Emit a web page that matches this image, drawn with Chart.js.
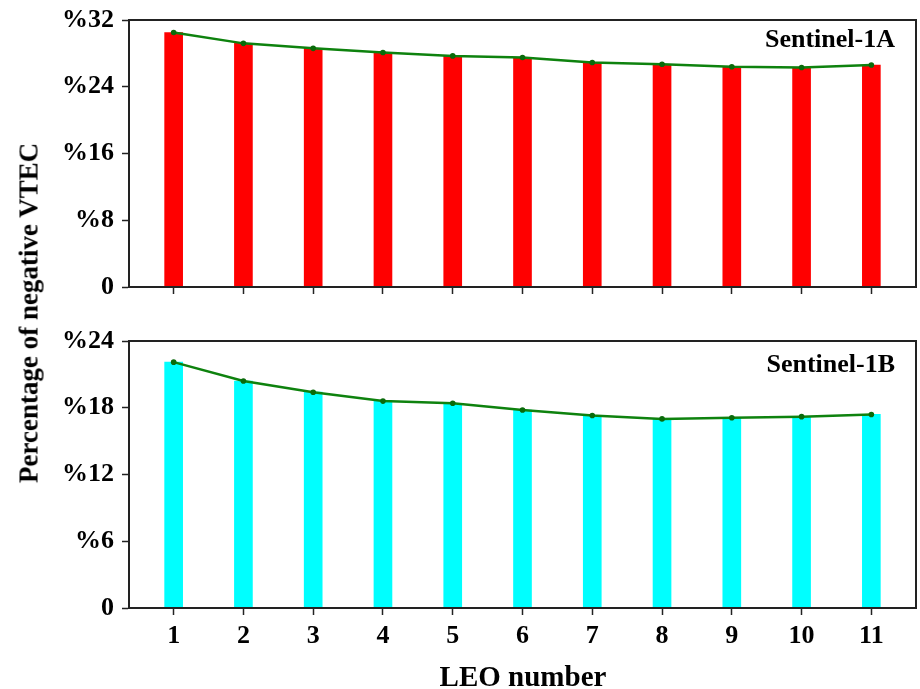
<!DOCTYPE html>
<html>
<head>
<meta charset="utf-8">
<title>Percentage of negative VTEC</title>
<script src="https://cdn.jsdelivr.net/npm/chart.js@4.4.1/dist/chart.umd.min.js"></script>
<style>
    body { margin: 0; background: #fff; }
    #wrap { position: relative; width: 920px; height: 689px; overflow: hidden;
            font-family: "Liberation Serif", "Times New Roman", serif; font-weight: bold; color: #000; }
    .panel { position: absolute; left: 0; width: 920px; }
    #p1 { top: 0; height: 300px; }
    #p2 { top: 321px; height: 368px; }
    #ytitle { position: absolute; left: 29px; top: 313px; font-size: 27px; line-height: 1;
              white-space: nowrap; transform: translate(-50%, -50%) rotate(-90deg); }
    #xtitle { position: absolute; left: 523px; top: 676px; font-size: 29px; line-height: 1;
              white-space: nowrap; transform: translate(-50%, -50%); }
</style>
</head>
<body>
<div id="wrap">
    <div class="panel" id="p1"><canvas id="chartA"></canvas></div>
    <div class="panel" id="p2"><canvas id="chartB"></canvas></div>
    <div id="ytitle">Percentage of negative VTEC</div>
    <div id="xtitle">LEO number</div>
</div>
<script>
// LEO numbers on the x axis
const leoNumbers = [1, 2, 3, 4, 5, 6, 7, 8, 9, 10, 11];

// % of negative VTEC per LEO
const sentinel1A = [30.5, 29.2, 28.6, 28.1, 27.7, 27.5, 26.9, 26.7, 26.4, 26.3, 26.6];
const sentinel1B = [22.1, 20.4, 19.4, 18.6, 18.4, 17.8, 17.3, 17.0, 17.1, 17.2, 17.4];

// y tick values of each panel
const ticksA = [0, 8, 16, 24, 32];
const ticksB = [0, 6, 12, 18, 24];

const FONT = '"Liberation Serif", "Times New Roman", serif';
Chart.defaults.font.family = FONT;
Chart.defaults.color = '#000';

// frame around the plot area + panel name in the upper right corner
const framePlugin = {
    id: 'frame',
    afterDraw(chart, args, opts) {
        const { ctx, chartArea: a } = chart;
        ctx.save();
        ctx.strokeStyle = '#222';
        ctx.lineWidth = 2;
        ctx.strokeRect(a.left, a.top, a.right - a.left, a.bottom - a.top);
        ctx.font = 'bold 26px ' + FONT;
        ctx.fillStyle = '#000';
        ctx.textAlign = 'right';
        ctx.textBaseline = 'alphabetic';
        ctx.fillText(opts.text, a.right - 21, a.top + opts.dy);
        ctx.restore();
    }
};

// quitar el relleno que pide cada eje para sus etiquetas extremas
function sinRelleno(scale) {
    scale.paddingTop = 0;
    scale.paddingBottom = 0;
    scale.paddingLeft = 0;
    scale.paddingRight = 0;
}

function crearPanel(canvasId, valores, colorBarra, yTicks, nombre, dy, conEtiquetas, altoEjeX) {
    const ctx = document.getElementById(canvasId).getContext('2d');
    const puntos = valores.map((v, i) => ({ x: leoNumbers[i], y: v }));

    return new Chart(ctx, {
        type: 'bar',
        data: {
            datasets: [
                {
                    type: 'line',
                    data: puntos,
                    borderColor: '#0e820e',
                    borderWidth: 2.5,
                    pointRadius: 2.8,
                    pointBackgroundColor: '#0a6a0a',
                    pointBorderColor: '#0a6a0a',
                    pointBorderWidth: 0,
                    tension: 0,
                    order: 0
                },
                {
                    data: puntos,
                    backgroundColor: colorBarra,
                    borderWidth: 0,
                    barThickness: 18,
                    order: 1
                }
            ]
        },
        options: {
            responsive: true,
            maintainAspectRatio: false,
            animation: false,
            events: [],
            layout: { padding: { top: 20, right: 2, left: 0, bottom: 0 } },
            plugins: {
                legend: { display: false },
                tooltip: { enabled: false },
                frame: { text: nombre, dy: dy }
            },
            scales: {
                x: {
                    type: 'linear',
                    min: 0.36,
                    max: 11.64,
                    offset: false,
                    afterBuildTicks: scale => { scale.ticks = leoNumbers.map(v => ({ value: v })); },
                    afterFit: scale => { scale.height = altoEjeX; sinRelleno(scale); },
                    grid: { drawOnChartArea: false, offset: false, tickLength: 7, color: '#222', tickWidth: 1.5 },
                    border: { display: true, color: '#222', width: 2 },
                    ticks: {
                        display: conEtiquetas,
                        padding: 6,
                        maxRotation: 0,
                        font: { size: 26, weight: 'bold' }
                    }
                },
                y: {
                    min: yTicks[0],
                    max: yTicks[yTicks.length - 1],
                    afterBuildTicks: scale => { scale.ticks = yTicks.map(v => ({ value: v })); },
                    afterFit: scale => { scale.width = 129; sinRelleno(scale); },
                    grid: { drawOnChartArea: false, tickLength: 7, color: '#222', tickWidth: 1.5 },
                    border: { display: true, color: '#222', width: 2 },
                    ticks: {
                        padding: 8,
                        font: { size: 26, weight: 'bold' },
                        callback: v => v === 0 ? '0' : '%' + v
                    }
                }
            }
        },
        plugins: [framePlugin]
    });
}

crearPanel('chartA', sentinel1A, '#ff0000', ticksA, 'Sentinel-1A', 27, false, 13);
crearPanel('chartB', sentinel1B, '#00ffff', ticksB, 'Sentinel-1B', 31, true, 81);
</script>
</body>
</html>
